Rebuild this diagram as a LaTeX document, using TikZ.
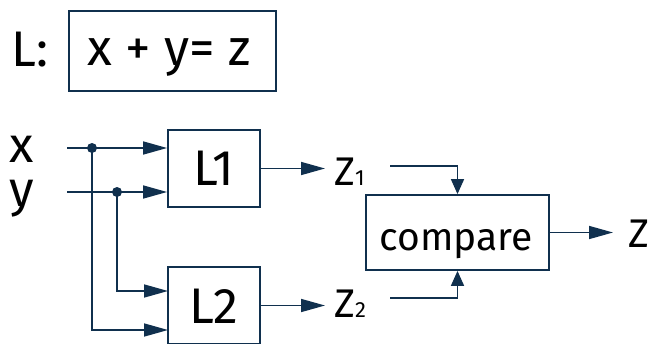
\documentclass[tikz,border=0pt]{standalone}
\usepackage{fontspec}
\setmainfont{Fira Sans}
\usetikzlibrary{arrows.meta}
\definecolor{navy}{RGB}{16,48,78}
\tikzset{
  wire/.style={draw=navy, line width=1.6pt},
  bigtip/.style={-{Triangle[length=24pt,width=13pt]}},
  smalltip/.style={-{Triangle[length=15pt,width=13pt]}},
  block/.style={draw=navy, line width=1.8pt, rectangle, inner sep=0pt, fill=white},
  junction/.style={circle, fill=navy, inner sep=0pt, minimum size=10pt},
  label50/.style={font=\fontsize{50}{50}\selectfont, inner sep=0pt, anchor=base west},
  label40/.style={font=\fontsize{40}{40}\selectfont, inner sep=0pt, anchor=base west},
}
\newcommand{\sub}[1]{{\fontsize{22}{22}\selectfont #1}}
\begin{document}
\begin{tikzpicture}[x=1pt, y=-1pt]
  \useasboundingbox (0,0) rectangle (651,343);
  \clip (0,0) rectangle (651,343);

  % definition of L
  \node[label50] (lname) at (11,66) {L:};
  \draw[block] (69,11) rectangle (276,91);
  \node[label50, font=\fontsize{51}{51}\selectfont] (eq) at (87,65) {x + y= z};

  % input labels
  \node[label50] (xlab) at (9,162) {x};
  \node[label50] (ylab) at (9,206) {y};

  % blocks
  \node[block, minimum width=92pt, minimum height=77pt] (L1) at (214,168.5) {};
  \node[block, minimum width=92pt, minimum height=77pt] (L2) at (214,305.5) {};
  \node[block, minimum width=183pt, minimum height=75pt] (cmp) at (457.5,232.5) {};
  \node[label50, anchor=base] (L1t) at (214,185) {L1};
  \node[label50, anchor=base] (L2t) at (214,323) {L2};
  \node[label40, anchor=base, font=\fontsize{39}{39}\selectfont] (cmpt) at (456,250) {compare};

  % input wires and branch points
  \coordinate (xs) at (67,148);
  \coordinate (ys) at (67,192);
  \node[junction] (xd) at (92,148) {};
  \node[junction] (yd) at (117,192) {};
  \draw[wire, bigtip] (xs) -- (L1.west |- xs);
  \draw[wire, bigtip] (ys) -- (L1.west |- ys);
  \coordinate (x2) at (168,330);
  \coordinate (y2) at (168,291);
  \draw[wire, bigtip] (xd.center) |- (x2);
  \draw[wire, bigtip] (yd.center) |- (y2);

  % outputs of L1 and L2
  \node[label40] (z1) at (334,185) {Z\sub{1}};
  \node[label40] (z2) at (334,317) {Z\sub{2}};
  \draw[wire, bigtip] (L1.east) -- (325,168.5);
  \draw[wire, bigtip] (L2.east) -- (325,305.5);

  % feeds into compare
  \coordinate (f1) at (390,166);
  \coordinate (f2) at (390,298);
  \draw[wire, smalltip] (f1) -| (cmp.north);
  \draw[wire, smalltip] (f2) -| (cmp.south);

  % result
  \node[label40] (zout) at (628,247) {Z};
  \draw[wire, bigtip] (cmp.east) -- (613,232.5);
\end{tikzpicture}
\end{document}
